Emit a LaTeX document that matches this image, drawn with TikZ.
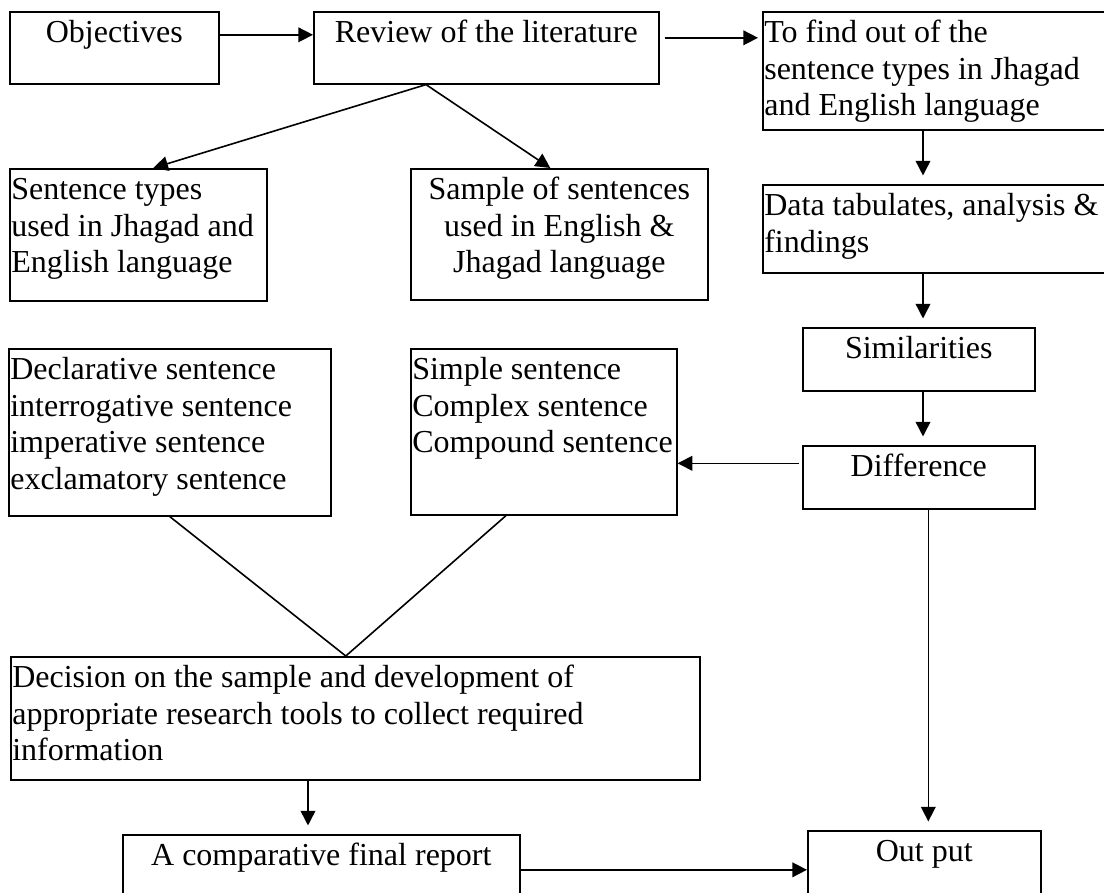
\documentclass[tikz,border=0pt]{standalone}
\usepackage{fontspec}
\setmainfont{Liberation Serif}
\usetikzlibrary{arrows.meta,calc}
\newlength\pxu
\setlength\pxu{0.375pt}
\newcommand{\lft}{\raggedright\leftskip=1.5\pxu}
\newcommand{\boxtxt}[4]{\parbox[c][#2\pxu][t]{#1\pxu}{#3\rule{0pt}{11.6pt}#4}}
\tikzset{
    blk/.style={
           draw,
           line width=0.6pt,
           inner sep=0pt,
           anchor=north west,
           font=\fontsize{12}{13.7}\selectfont,
           },
    pil/.style={
           ->,
           line width=0.6pt,
           },
    pilgap/.style={
           pil,
           shorten >=3.2pt,
           },
    ln/.style={
           line width=0.6pt,
           }
}
\begin{document}
\begin{tikzpicture}[x=0.375pt,y=-0.375pt,>={Triangle[length=5.5pt,width=5.5pt]}]
\useasboundingbox (0,0) rectangle (1104,892);
\clip (0,0) rectangle (1104,892);
\node[blk] (obj) at (9,11) {\boxtxt{209}{72}{\centering}{Objectives}};
\node[blk] (rev) at (313,11) {\boxtxt{345}{72}{\centering}{Review of the literature}};
\node[blk] (tofind) at (762,11) {\boxtxt{350}{118}{\lft}{To find out of the\\ sentence types in Jhagad\\ and English language}};
\node[blk] (sent) at (9,168) {\boxtxt{257}{132}{\lft}{Sentence types\\ used in Jhagad and\\ English language}};
\node[blk] (samp) at (410,168) {\boxtxt{297}{131}{\centering}{Sample of sentences\\ used in English \&\\ Jhagad language}};
\node[blk] (data) at (762,184) {\boxtxt{350}{88}{\lft}{Data tabulates, analysis \&\\ findings}};
\node[blk] (simil) at (802,327) {\boxtxt{232}{63}{\centering}{Similarities}};
\node[blk] (decl) at (8,348) {\boxtxt{322}{167}{\lft}{Declarative sentence\\ interrogative sentence\\ imperative sentence\\ exclamatory sentence}};
\node[blk] (simp) at (410,348) {\boxtxt{266}{166}{\lft}{Simple sentence\\ Complex sentence\\ Compound sentence}};
\node[blk] (diff) at (802,445) {\boxtxt{232}{63}{\centering}{Difference}};
\node[blk] (decis) at (10,656) {\boxtxt{689}{123}{\lft}{Decision on the sample and development of\\ appropriate research tools to collect required\\ information}};
\node[blk] (report) at (122,834) {\boxtxt{397}{70}{\centering}{A comparative final report}};
\node[blk] (output) at (807,830) {\boxtxt{233}{78}{\centering}{Out put}};
\coordinate (rb) at ($(rev.south west)+(113,0)$);
\coordinate (r2t) at ($(rev.east)+(5,-10)$);
\coordinate (col) at (923,0);
\coordinate (d2s) at ($(diff.west)+(-3,-14)$);
\coordinate (dout) at ($(diff.south)+(9.5,0)$);
\coordinate (meet) at ($(decis.north)+(-9.5,0)$);
\coordinate (d2r) at ($(decis.south west)+(298,0)$);
\draw[pil] ($(obj.east)+(0,-13)$) -- ($(rev.west)+(0,-13)$);
\draw[pil, shorten >=1.5pt] (r2t) -- (r2t -| tofind.west);
\draw[pil] (rb) -- ($(sent.north)+(15,0)$);
\draw[pil] (rb) -- ($(samp.north)+(-9,0)$);
\draw[pilgap] (tofind.south -| col) -- (data.north -| col);
\draw[pilgap] (data.south -| col) -- (simil.north -| col);
\draw[pilgap] (simil.south -| col) -- (diff.north -| col);
\draw[pil] (d2s) -- (d2s -| simp.east);
\draw[pilgap] (dout) -- (dout |- output.north);
\draw[ln] (decl.south) -- (meet);
\draw[ln] ($(simp.south west)+(96,0)$) -- (meet);
\draw[pilgap] (d2r) -- (d2r |- report.north);
\draw[pil] (report.east) -- (output.west);
\end{tikzpicture}
\end{document}
